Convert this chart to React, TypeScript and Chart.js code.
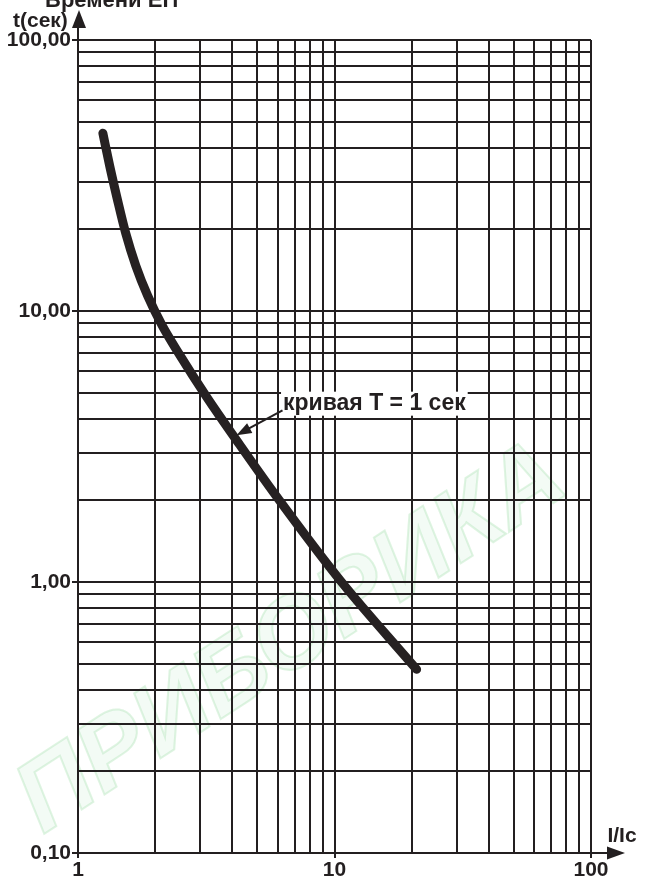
import React, { useEffect, useRef } from "react";
import { Chart, registerables } from "chart.js";

Chart.register(...registerables);

// Curve "кривая T = 1 сек": multiple of setting current vs trip time
const currentRatio = [1.25, 1.33, 1.42, 1.535, 1.68, 1.87, 2.12, 2.45, 3.17, 4.27, 5.94, 10.65, 20.9];
const tripTime = [45.3, 34.2, 26.1, 19.35, 14.7, 11.37, 8.91, 7.07, 4.83, 3.21, 2.07, 1.0, 0.476];

// Grid (tick) values
const xTickValues = [1, 2, 3, 4, 5, 6, 7, 8, 9, 10, 20, 30, 40, 50, 60, 70, 80, 90, 100];
const yTickValues = [
  0.1, 0.2, 0.3, 0.4, 0.5, 0.6, 0.7, 0.8, 0.9,
  1, 2, 3, 4, 5, 6, 7, 8, 9,
  10, 20, 30, 40, 50, 60, 70, 80, 90, 100,
];

// Labelled ticks
const xLabelValues = [1, 10, 100];
const xLabelTexts = ["1", "10", "100"];
const yLabelValues = [0.1, 1, 10, 100];
const yLabelTexts = ["0,10", "1,00", "10,00", "100,00"];

// Texts
const yAxisTitle = "t(сек)";
const xAxisTitle = "I/Ic";
const topTitle = "Времени ЕП";
const curveLabel = "кривая T = 1 сек";
const curveLabelAnchor = { x: 6.3, y: 4.55 };
const curveArrowTail = { x: 6.27, y: 4.3 };
const curveArrowTip = { x: 4.15, y: 3.48 };
const watermark = "ПРИБОРИКА";

const INK = "#231f20";
const FONT = '"Liberation Sans", Arial, sans-serif';

function labelFor(values: number[], texts: string[], v: number): string {
  for (let i = 0; i < values.length; i++) {
    if (Math.abs(v / values[i] - 1) < 1e-6) return texts[i];
  }
  return "";
}

function isLabelled(values: number[], v: number): boolean {
  return values.some((m) => Math.abs(v / m - 1) < 1e-6);
}

function arrowHead(ctx: CanvasRenderingContext2D, tx: number, ty: number, fx: number, fy: number, len: number, half: number) {
  const ang = Math.atan2(ty - fy, tx - fx);
  const bx = tx - Math.cos(ang) * len;
  const by = ty - Math.sin(ang) * len;
  const nx = -Math.sin(ang) * half;
  const ny = Math.cos(ang) * half;
  ctx.beginPath();
  ctx.moveTo(tx, ty);
  ctx.lineTo(bx + nx, by + ny);
  ctx.lineTo(bx - nx, by - ny);
  ctx.closePath();
  ctx.fill();
}

const decorPlugin = {
  id: "decor",
  beforeDraw(chart: any) {
    const ctx: CanvasRenderingContext2D = chart.ctx;
    ctx.save();
    ctx.fillStyle = "#ffffff";
    ctx.fillRect(0, 0, chart.width, chart.height);
    // faint watermark
    ctx.translate(292, 640);
    ctx.rotate((-33 * Math.PI) / 180);
    ctx.font = `italic bold 100px ${FONT}`;
    ctx.textAlign = "center";
    ctx.textBaseline = "middle";
    ctx.fillStyle = "rgba(222, 243, 225, 0.35)";
    ctx.fillText(watermark, 0, 0);
    ctx.strokeStyle = "rgba(175, 228, 183, 0.4)";
    ctx.lineWidth = 2;
    ctx.strokeText(watermark, 0, 0);
    ctx.restore();
  },
  afterDraw(chart: any) {
    const ctx: CanvasRenderingContext2D = chart.ctx;
    const area = chart.chartArea;
    const xs = chart.scales.x;
    const ys = chart.scales.y;
    ctx.save();
    ctx.strokeStyle = INK;
    ctx.fillStyle = INK;
    ctx.lineWidth = 2;

    // y axis arrow
    ctx.beginPath();
    ctx.moveTo(area.left, area.top);
    ctx.lineTo(area.left, 22);
    ctx.stroke();
    arrowHead(ctx, area.left + 1, 10, area.left + 1, 40, 18, 7);

    // x axis arrow
    ctx.beginPath();
    ctx.moveTo(area.right, area.bottom);
    ctx.lineTo(612, area.bottom);
    ctx.stroke();
    arrowHead(ctx, 625, area.bottom, 590, area.bottom, 18, 6.5);

    // axis titles
    ctx.font = `bold 21px ${FONT}`;
    ctx.textBaseline = "middle";
    ctx.textAlign = "left";
    ctx.fillText(yAxisTitle, 13, 21);
    ctx.textAlign = "center";
    ctx.fillText(xAxisTitle, 622, 836);

    // clipped title at top
    ctx.font = `bold 22px ${FONT}`;
    ctx.textBaseline = "alphabetic";
    ctx.textAlign = "left";
    ctx.fillText(topTitle, 45, 7);

    // curve label with white box
    const lx = xs.getPixelForValue(curveLabelAnchor.x);
    const ly = ys.getPixelForValue(curveLabelAnchor.y);
    ctx.font = `bold 23px ${FONT}`;
    const w = ctx.measureText(curveLabel).width;
    ctx.fillStyle = "#ffffff";
    ctx.fillRect(lx - 2, ly - 12, w + 4, 24);
    ctx.fillStyle = INK;
    ctx.textBaseline = "middle";
    ctx.textAlign = "left";
    ctx.fillText(curveLabel, lx, ly);

    // arrow to curve
    const ax = xs.getPixelForValue(curveArrowTail.x);
    const ay = ys.getPixelForValue(curveArrowTail.y);
    const tx = xs.getPixelForValue(curveArrowTip.x);
    const ty = ys.getPixelForValue(curveArrowTip.y);
    ctx.lineWidth = 2;
    ctx.beginPath();
    ctx.moveTo(ax, ay);
    const ang = Math.atan2(ty - ay, tx - ax);
    ctx.lineTo(tx - Math.cos(ang) * 10, ty - Math.sin(ang) * 10);
    ctx.stroke();
    arrowHead(ctx, tx, ty, ax, ay, 15, 5.5);
    ctx.restore();
  },
};

export default function App() {
  const ref = useRef<HTMLCanvasElement | null>(null);

  useEffect(() => {
    if (!ref.current) return;
    const points = currentRatio.map((x, i) => ({ x, y: tripTime[i] }));
    const tickFont = { family: FONT, size: 21, weight: "bold" as const };
    const chart = new Chart(ref.current, {
      type: "line",
      data: {
        datasets: [
          {
            data: points,
            borderColor: "#262122",
            borderWidth: 9,
            pointRadius: 0,
            borderCapStyle: "round",
            borderJoinStyle: "round",
            cubicInterpolationMode: "monotone",
            fill: false,
          },
        ],
      },
      options: {
        animation: false,
        responsive: false,
        devicePixelRatio: 1,
        layout: { padding: { top: 40, right: 57, left: 0, bottom: 0 } },
        plugins: { legend: { display: false }, tooltip: { enabled: false } },
        scales: {
          x: {
            type: "logarithmic",
            min: 1,
            max: 100,
            afterBuildTicks: (s: any) => {
              s.ticks = xTickValues.map((v) => ({ value: v }));
            },
            afterFit: (s: any) => {
              s.height = 25;
            },
            ticks: {
              autoSkip: false,
              maxRotation: 0,
              padding: 0,
              color: INK,
              font: tickFont,
              callback: (v: any) => labelFor(xLabelValues, xLabelTexts, Number(v)),
            },
            grid: {
              color: INK,
              lineWidth: 2,
              tickLength: 5,
              tickColor: (c: any) => (c.tick && isLabelled(xLabelValues, c.tick.value) ? INK : "rgba(0,0,0,0)"),
            },
            border: { display: true, color: INK, width: 2 },
          },
          y: {
            type: "logarithmic",
            min: 0.1,
            max: 100,
            afterBuildTicks: (s: any) => {
              s.ticks = yTickValues.map((v) => ({ value: v }));
            },
            afterFit: (s: any) => {
              s.width = 78;
            },
            ticks: {
              autoSkip: false,
              padding: 1,
              color: INK,
              font: tickFont,
              callback: (v: any) => labelFor(yLabelValues, yLabelTexts, Number(v)),
            },
            grid: {
              color: INK,
              lineWidth: 2,
              tickLength: 6,
              tickColor: (c: any) => (c.tick && isLabelled(yLabelValues, c.tick.value) ? INK : "rgba(0,0,0,0)"),
            },
            border: { display: true, color: INK, width: 2 },
          },
        },
      },
      plugins: [decorPlugin],
    } as any);
    return () => chart.destroy();
  }, []);

  return (
    <div style={{ position: "absolute", left: 0, top: 0, width: 648, height: 878, background: "#fff" }}>
      <canvas ref={ref} width={648} height={878} style={{ display: "block" }} />
    </div>
  );
}
